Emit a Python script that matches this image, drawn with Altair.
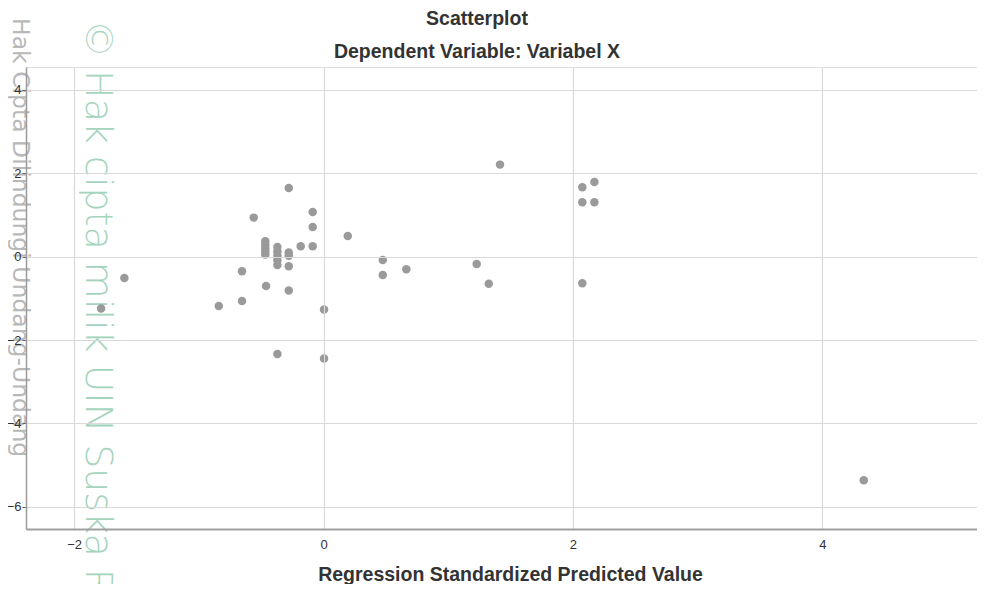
import altair as alt
import pandas as pd

# Regression Standardized Predicted Value (x) and Residual (y)
pred = [1.415, -0.279, -0.560, -0.087, -0.087, 0.194, -0.183, -0.087,
        -0.467, -0.467, -0.467, -0.467, -0.467,
        -0.370, -0.370, -0.370, -0.370, -0.370,
        -0.279, -0.279, -0.279,
        -0.654, -0.461, -0.279, -0.840, -0.654, 0.004, -0.370, 0.004,
        0.475, 0.475, 0.664, 1.228, 1.325,
        2.075, 2.172, 2.075, 2.172, 2.075,
        -1.597, -1.784, 4.332]
resid = [2.206, 1.645, 0.935, 1.070, 0.710, 0.494, 0.247, 0.247,
         0.37, 0.28, 0.20, 0.12, 0.05,
         0.23, 0.12, 0.02, -0.09, -0.20,
         0.10, 0.02, -0.233,
         -0.352, -0.705, -0.815, -1.185, -1.065, -1.270, -2.336, -2.446,
         -0.080, -0.440, -0.305, -0.177, -0.648,
         1.662, 1.790, 1.302, 1.302, -0.640,
         -0.513, -1.247, -5.365]

x_ticks = [-2, 0, 2, 4]
y_ticks = [-6, -4, -2, 0, 2, 4]

title_text = ["Scatterplot"]
subtitle_text = ["Dependent Variable: Variabel X"]
x_title = "Regression Standardized Predicted Value"
wm_gray = ["Hak Cipta Dilindungi Undang-Undang"]
wm_green = ["\u00a9 Hak cipta milik UIN Suska Riau"]

df = pd.DataFrame({"pred": pred, "resid": resid})

font = "Liberation Sans"

points = alt.Chart(df).mark_circle(size=72, color="#9a9a9a", opacity=1).encode(
    x=alt.X(
        "pred:Q",
        scale=alt.Scale(domain=[-2.386, 5.24], nice=False, zero=False),
        axis=alt.Axis(
            values=x_ticks, format="d", title=x_title,
            grid=True, gridColor="#d9d9d9", gridWidth=1.2,
            domainColor="#a0a0a0", domainWidth=2,
            ticks=False, tickSize=0, labelPadding=9,
            labelFont=font, labelFontSize=13, labelColor="#333333",
            titleFont=font, titleFontSize=19.5, titleFontWeight="bold",
            titleColor="#333333", titleX=484, titleY=51,
            titleBaseline="alphabetic", titleAnchor="middle",
            zindex=1,
        ),
    ),
    y=alt.Y(
        "resid:Q",
        scale=alt.Scale(domain=[-6.532, 4.547], nice=False, zero=False),
        axis=alt.Axis(
            values=y_ticks, format="d", title=None,
            grid=True, gridColor="#d9d9d9", gridWidth=1.2,
            domainColor="#9a9a9a", domainWidth=1.5,
            tickColor="#666666", tickSize=4, labelPadding=1,
            labelFont=font, labelFontSize=13, labelColor="#333333",
            zindex=1,
        ),
    ),
)

gray_wm = alt.Chart(pd.DataFrame({"t": wm_gray})).mark_text(
    angle=90, align="left", baseline="middle", font="DejaVu Sans",
    fontSize=23.5, color="#b8b8b8",
).encode(x=alt.value(-6), y=alt.value(-49), text="t:N")

green_wm = alt.Chart(pd.DataFrame({"t": wm_green})).mark_text(
    angle=90, align="left", baseline="middle", font="DejaVu Sans",
    fontSize=38, fontWeight=200, color="#a5d4bd",
).encode(x=alt.value(71), y=alt.value(-47), text="t:N")

title_mark = alt.Chart(pd.DataFrame({"t": title_text})).mark_text(
    align="center", baseline="alphabetic", font=font, fontSize=19.5,
    fontWeight="bold", color="#333333",
).encode(x=alt.value(451), y=alt.value(-42), text="t:N")

subtitle_mark = alt.Chart(pd.DataFrame({"t": subtitle_text})).mark_text(
    align="center", baseline="alphabetic", font=font, fontSize=19.5,
    fontWeight="bold", color="#333333",
).encode(x=alt.value(451), y=alt.value(-9.5), text="t:N")

chart = alt.layer(gray_wm, green_wm, points, title_mark, subtitle_mark).properties(
    width=951,
    height=462,
    autosize=alt.AutoSizeParams(type="none"),
    padding={"left": 18, "top": 59, "right": 0, "bottom": 55},
).configure_view(strokeWidth=0).configure(background="white")

chart.save("out.html", embed_options={"renderer": "svg", "actions": False})
